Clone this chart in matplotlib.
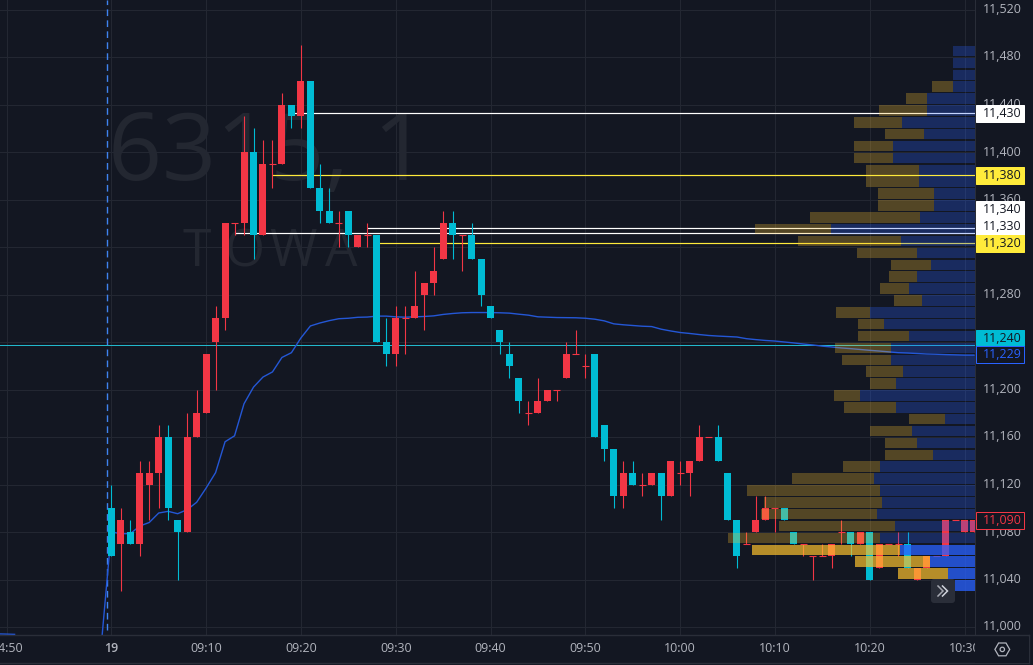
import numpy as np
import matplotlib
matplotlib.use("Agg")
import matplotlib.pyplot as plt
from matplotlib.patches import Rectangle, RegularPolygon, Circle, FancyBboxPatch

plt.rcParams['font.family'] = ['Open Sans', 'DejaVu Sans']

# --- candles, one per minute from 09:00 (index = minutes after 09:00)
opens = [11100,11070,11080,11070,11120,11130,11160,11090,11080,11160,11180,11240,11260,11340,11340,11400,11330,11390,11390,11440,
         11430,11460,11370,11350,11340,11350,11320,11330,11330,11240,11230,11260,11260,11280,11290,11310,11340,11330,11330,11310,
         11270,11250,11230,11210,11180,11180,11190,11200,11210,11230,11220,11230,11170,11150,11110,11130,11120,11120,11130,11110,
         11130,11130,11140,11160,11160,11130,11090,11070,11080,11090,11100,11100,11080,11070,11060,11060,11060,11080,11080,11070,
         11080,11050,11070,11070,11070,11040,11050,11060,11060,11090,11080,11080]
highs = [11120,11100,11090,11140,11140,11170,11170,11090,11180,11200,11230,11270,11340,11340,11430,11420,11410,11410,11450,11440,
         11490,11460,11390,11370,11350,11350,11330,11340,11330,11260,11270,11270,11300,11290,11320,11350,11350,11330,11340,11310,
         11270,11250,11240,11210,11190,11210,11200,11200,11240,11250,11230,11230,11170,11150,11140,11140,11130,11130,11130,11140,
         11140,11140,11170,11160,11170,11130,11090,11080,11110,11110,11100,11100,11080,11070,11060,11070,11070,11090,11080,11080,
         11080,11070,11070,11080,11080,11050,11060,11060,11090,11090,11090,11090]
lows = [11060,11030,11070,11060,11090,11100,11090,11040,11080,11160,11180,11200,11250,11330,11330,11310,11330,11370,11390,11420,
        11420,11370,11340,11340,11320,11320,11320,11320,11240,11220,11220,11230,11260,11250,11280,11310,11310,11300,11310,11270,
        11260,11230,11210,11180,11170,11180,11190,11190,11210,11230,11210,11160,11140,11100,11100,11120,11110,11120,11090,11110,
        11120,11110,11140,11160,11140,11090,11050,11070,11080,11090,11080,11090,11070,11060,11040,11060,11050,11070,11060,11070,
        11040,11050,11070,11060,11050,11040,11050,11060,11060,11090,11080,11080]
closes = [11060,11090,11070,11130,11130,11160,11100,11080,11160,11180,11230,11260,11340,11340,11400,11330,11390,11390,11440,11430,
          11460,11370,11350,11340,11340,11330,11330,11330,11240,11230,11260,11260,11270,11290,11300,11340,11330,11330,11310,11280,
          11260,11240,11220,11190,11180,11190,11200,11200,11230,11230,11220,11160,11150,11110,11130,11120,11120,11130,11110,11140,
          11130,11140,11160,11160,11140,11090,11060,11070,11090,11100,11100,11090,11070,11070,11060,11060,11070,11080,11070,11080,
          11040,11070,11070,11070,11050,11050,11060,11060,11090,11090,11090,11090]

# --- VWAP line
vwap_minute = list(range(-1, 92))
vwap = [10990,11080,11078.6,11078.6,11085,11088,11096,11097.4,11095.4,11098.8,11105,11117,11130,11156,11161,11188,11202,11210.5,11214.8,11227,
        11231,11243.4,11253.5,11256,11258,11259.6,11260,11260.8,11261,11261.8,11261.8,11261.2,11260.9,11261.2,11261.5,11262,11263.2,11264,11264.6,11264.8,
        11264.8,11264.8,11264.6,11264.3,11263.4,11262.6,11261.2,11260.9,11260.6,11260.5,11260.4,11260,11259.2,11257.8,11255.3,11254.5,11253.9,11253.3,11253,11250.8,
        11249.3,11248,11247.2,11246.3,11245.5,11245,11244.6,11244.2,11242.8,11242,11241.3,11240.8,11240,11239.2,11238.3,11237.5,11236.5,11235.8,11235,11234.4,
        11233.7,11233,11232.4,11231.7,11231,11230.7,11230.3,11229.9,11229.7,11229.4,11229.2,11229,11229]
prev_vwap_minute = [-12, -11, -10.2]
prev_vwap = [10994.2, 10994, 10993.8]

# --- volume profile (row low price, up volume, down volume)
vp_price = [11480,11470,11460,11450,11440,11430,11420,11410,11400,11390,11380,11370,11360,11350,11340,11330,
            11320,11310,11300,11290,11280,11270,11260,11250,11240,11230,11220,11210,11200,11190,11180,11170,
            11160,11150,11140,11130,11120,11110,11100,11090,11080,11070,11060,11050,11040,11030]
vp_up = [22,22,22,22,48,48,73,51,82,82,56,56,41,41,55,144,
         74,58,44,58,66,53,105,91,66,84,84,72,79,115,79,30,
         63,58,42,95,101,95,93,98,80,95,75,45,27,20]
vp_down = [0,0,0,21,21,48,48,39,39,39,53,53,56,56,110,76,
           103,60,40,28,29,28,34,26,51,56,49,37,26,26,52,36,
           42,32,48,37,82,133,118,116,116,152,148,75,50,0]
vp_value_area_low = 11030
vp_value_area_high = 11070

# --- axis labelling
y_ticks = list(range(11000, 11521, 40))
x_tick_minutes = [-10.97, 0, 10, 20, 30, 40, 50, 60, 70, 80, 90]
x_tick_labels = ['04:50', '19', '09:10', '09:20', '09:30', '09:40', '09:50', '10:00', '10:10', '10:20', '10:30']

# --- horizontal price lines: price, first minute, colour
line_price = [11432.6, 11380.4, 11335.7, 11331.5, 11323, 11237.2]
line_start = [19, 17, 27, 13, 28, -12]
line_color = ['#FFFFFF', '#FFEB3B', '#FFFFFF', '#FFFFFF', '#FFEB3B', '#22B8CC']

# --- price-scale tags: text, position, fill, edge, text colour
tag_text = ['11,430', '11,380', '11,340', '11,330', '11,320', '11,240', '11,229', '11,090']
tag_pos = [11432.4, 11380.2, 11351.6, 11337.3, 11323, 11243, 11229.5, 11090]
tag_fill = ['#FFFFFF', '#FFEB3B', '#FFFFFF', '#FFFFFF', '#FFEB3B', '#00BCD4', '#131722', '#131722']
tag_edge = ['#FFFFFF', '#FFEB3B', '#FFFFFF', '#FFFFFF', '#FFEB3B', '#00BCD4', '#2962FF', '#F23645']
tag_ink = ['#131722', '#131722', '#131722', '#131722', '#131722', '#131722', '#2962FF', '#F23645']

W, H = 1033, 665
BG, GRID, AXIS, INK = '#131722', '#232732', '#2A2E39', '#B2B5BE'
UP, DOWN = '#F23645', '#00BCD4'
PX_PLOT_W, PX_PLOT_H = 975, 635
PX_PER_MIN = 9.48
X0 = 111.3
PX_PER_UNIT = 1.1875
Y_11000 = 627

fig = plt.figure(figsize=(W / 100, H / 100), dpi=100, facecolor=BG)
ax = fig.add_axes([0, 1 - PX_PLOT_H / H, PX_PLOT_W / W, PX_PLOT_H / H], facecolor=BG)
ax.set_xlim(-X0 / PX_PER_MIN, (PX_PLOT_W - X0) / PX_PER_MIN)
ylim = (11000 - (PX_PLOT_H - Y_11000) / PX_PER_UNIT, 11000 + Y_11000 / PX_PER_UNIT)
ax.set_ylim(*ylim)

lw1 = 0.72  # one pixel
ax.set_xticks(x_tick_minutes)
ax.set_yticks(y_ticks)
ax.tick_params(axis='both', length=0, labelleft=False, labelbottom=False)
ax.grid(True, color=GRID, lw=lw1, zorder=0)
ax.set_axisbelow(True)
for s in ax.spines.values():
    s.set_visible(False)

# watermark
ax.text((268 - X0) / PX_PER_MIN, 11000 + (Y_11000 - 155) / PX_PER_UNIT, '6315, 1', color='#232731',
        fontsize=68, ha='center', va='center', family='Open Sans', zorder=0.5)
for ch, px in zip('TOWA', [197, 245, 293, 341]):
    ax.text((px - X0) / PX_PER_MIN, 11000 + (Y_11000 - 253) / PX_PER_UNIT, ch, color='#232731',
            fontsize=37, ha='center', va='center', family='Open Sans', zorder=0.5)

# session break
ax.axvline(-0.5, color='#3F83F0', lw=1.0, dashes=(4.8, 3.1), zorder=1, ymin=0.008)

# price lines
for p, s, c in zip(line_price, line_start, line_color):
    ax.hlines(p, s, (PX_PLOT_W - X0) / PX_PER_MIN, color=c, lw=lw1 * (1.2 if c != '#22B8CC' else 1), zorder=1.5)

# vwap
ax.plot(vwap_minute, vwap, color='#2457D6', lw=1.0, zorder=2)
ax.plot(prev_vwap_minute, prev_vwap, color='#2457D6', lw=1.0, zorder=2)

# candles
body_w = 7 / PX_PER_MIN
for i, (o, h, l, c) in enumerate(zip(opens, highs, lows, closes)):
    col = UP if c >= o else DOWN
    ax.vlines(i, l, h, color=col, lw=lw1 * 1.1, zorder=3)
    if o == c:
        ax.hlines(o, i - body_w / 2, i + body_w / 2, color=col, lw=lw1 * 1.1, zorder=3)
    else:
        ax.bar(i, abs(c - o), bottom=min(o, c), width=body_w, color=col, lw=0, zorder=3)

# volume profile on its own right-anchored pixel-width scale
vx = ax.twiny()
vx.set_xlim(PX_PLOT_W, 0)
vx.set_ylim(*ylim)
vx.axis('off')
vp_rows = 8.9
for p, u, d in zip(vp_price, vp_up, vp_down):
    bright = vp_value_area_low <= p < vp_value_area_high
    vx.barh(p + 5, u, height=vp_rows, left=0, color='#2962FF', alpha=0.76 if bright else 0.28, lw=0, zorder=4)
    if d:
        vx.barh(p + 5, d, height=vp_rows, left=u, color='#FBC02D', alpha=0.7 if bright else 0.28, lw=0, zorder=4)

# price axis panel
pax = fig.add_axes([PX_PLOT_W / W, 1 - PX_PLOT_H / H, 1 - PX_PLOT_W / W, PX_PLOT_H / H], facecolor=BG)
pax.set_xlim(0, W - PX_PLOT_W)
pax.set_ylim(*ylim)
pax.axis('off')
for t in y_ticks:
    pax.text(27, t, f'{t:,}', color=INK, fontsize=8.9, ha='center', va='center', clip_on=True, zorder=1)
tag_h = 17 / PX_PER_UNIT
for s, p, f, e, k in zip(tag_text, tag_pos, tag_fill, tag_edge, tag_ink):
    pax.add_patch(Rectangle((0.5, p - tag_h / 2), 48, tag_h, facecolor=f, edgecolor=e, lw=lw1, zorder=2))
    pax.text(27, p, s, color=k, fontsize=8.9, ha='center', va='center', zorder=3)

# frame
base = 1 - PX_PLOT_H / H
fig.add_artist(plt.Line2D([0, 1029 / W], [base, base], color=AXIS, lw=1))
fig.add_artist(plt.Line2D([PX_PLOT_W / W] * 2, [base, 1], color=AXIS, lw=0.7))
fig.add_artist(plt.Line2D([0, 1029 / W], [1 - 663 / H] * 2, color=AXIS, lw=1))
fig.add_artist(plt.Line2D([1029 / W] * 2, [1 - 663 / H, base], color=AXIS, lw=1))

# time labels (clipped by the figure edge and by the price axis)
for m, s in zip(x_tick_minutes, x_tick_labels):
    ax.annotate(s, xy=(m, 0), xycoords=('data', 'axes fraction'), xytext=(0, -10), textcoords='offset points',
                color=INK, fontsize=8.9, ha='center', va='center', annotation_clip=False,
                fontweight='semibold' if s == '19' else 'normal')
fig.add_artist(Rectangle((975 / W, 2 / H), 54 / W, base - 3.5 / H, transform=fig.transFigure, facecolor=BG, lw=0, zorder=5))

# settings glyph
gear = fig.add_axes([988 / W, 1 - 663 / H, 28 / W, 28 / H], facecolor='none')
gear.set_xlim(0, 28); gear.set_ylim(0, 28); gear.axis('off'); gear.set_zorder(6)
gear.add_patch(RegularPolygon((14.3, 13.6), 6, radius=7.4, orientation=np.pi / 6, fill=False, ec=INK, lw=0.9))
gear.add_patch(Circle((14.3, 13.6), 2.2, fill=False, ec=INK, lw=0.9))

# scroll button
btn = fig.add_axes([931 / W, 1 - 603 / H, 24 / W, 24 / H], facecolor='none')
btn.set_xlim(0, 24); btn.set_ylim(0, 24); btn.axis('off'); btn.set_zorder(6)
btn.add_patch(FancyBboxPatch((0, 0), 24, 24, boxstyle='round,pad=0,rounding_size=3', fc='#2A2E39', ec='none'))
for dx, a in zip((0, 4.5), (0.75, 1)):
    btn.plot(np.array([7, 12, 7]) + dx, [17, 12, 7], color='#D1D4DC', lw=1.1, alpha=a, solid_joinstyle='miter')

fig.savefig('out.png', dpi=100, facecolor=BG)
